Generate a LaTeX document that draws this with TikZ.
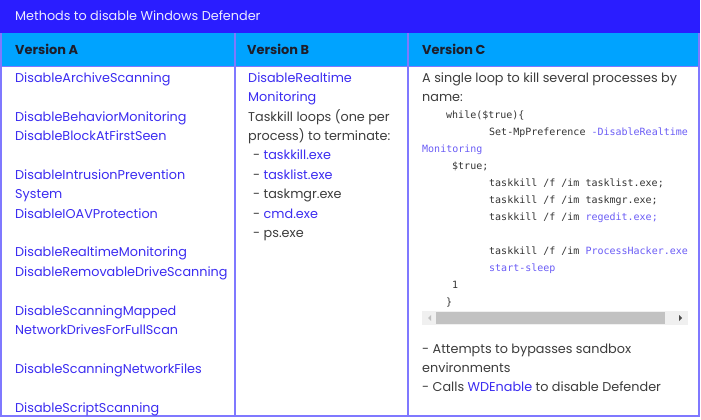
\documentclass[tikz,border=0pt]{standalone}
\usepackage{fontspec}
\setmainfont{Poppins}
\newfontfamily\codefont{DejaVu Sans Mono}
\definecolor{titleblue}{HTML}{2A1DFF}
\definecolor{headblue}{HTML}{00A3FF}
\definecolor{bordercol}{HTML}{7F78FF}
\definecolor{linkblue}{HTML}{3B2CF0}
\definecolor{codelink}{HTML}{6A5CF5}
\definecolor{txtgray}{HTML}{3C3C3C}
\definecolor{codegray}{HTML}{333333}
\definecolor{hdrtext}{HTML}{1E1E2A}
\definecolor{titletext}{HTML}{ECEAFF}
\tikzset{
  txt/.style={anchor=base west, inner sep=0pt, font=\fontsize{12.8}{14}\selectfont, text=txtgray},
  lnk/.style={txt, text=linkblue},
  codeln/.style={anchor=base west, inner sep=0pt, font=\codefont\fontsize{10}{12}\selectfont, text=codegray},
  hdr/.style={anchor=base west, inner sep=0pt, font=\bfseries\fontsize{12.9}{14}\selectfont, text=hdrtext},
  ttl/.style={anchor=base west, inner sep=0pt, font=\fontsize{12.8}{14}\selectfont, text=titletext},
  borderline/.style={draw=bordercol, line width=1.3pt},
}
\begin{document}
\begin{tikzpicture}[x=1pt,y=-1pt]
\useasboundingbox (0,0) rectangle (701,420);
% bars
\fill[titleblue] (0,0) rectangle (700,33);
\fill[headblue] (1,33) rectangle (699,66);
\draw[borderline] (1,33) -- (1,416) -- (699,416) -- (699,33);
\draw[borderline] (235,33) -- (235,416);
\draw[borderline] (408,33) -- (408,416);
\draw[draw=bordercol, line width=0.6pt] (1,66) -- (699,66);
% title and headers
\node[ttl] (title) at (15,20.7) {Methods to disable Windows Defender};
\node[hdr] (ha) at (15,55) {Version A};
\node[hdr] (hb) at (247,55) {Version B};
\node[hdr] (hc) at (422,55) {Version C};
% column A
\node[lnk] (a1) at (15,82.3) {DisableArchiveScanning};
\node[lnk] (a2) at (15,121.1) {DisableBehaviorMonitoring};
\node[lnk] (a3) at (15,140.5) {DisableBlockAtFirstSeen};
\node[lnk] (a4) at (15,179.3) {DisableIntrusionPrevention};
\node[lnk] (a5) at (15,198.7) {System};
\node[lnk] (a6) at (15,218.1) {DisableIOAVProtection};
\node[lnk] (a7) at (15,256.9) {DisableRealtimeMonitoring};
\node[lnk] (a8) at (15,276.3) {DisableRemovableDriveScanning};
\node[lnk] (a9) at (15,315.1) {DisableScanningMapped};
\node[lnk] (a10) at (15,334.5) {NetworkDrivesForFullScan};
\node[lnk] (a11) at (15,373.3) {DisableScanningNetworkFiles};
\node[lnk] (a12) at (15,412.1) {DisableScriptScanning};
% column B
\node[lnk] (b1) at (248,82.3) {DisableRealtime};
\node[lnk] (b2) at (248,101.7) {Monitoring};
\node[txt] (b3) at (248,121.1) {Taskkill loops (one per};
\node[txt] (b4) at (248,140.5) {process) to terminate:};
\node[txt] (b5) at (253,159.9) {- \textcolor{linkblue}{taskkill.exe}};
\node[txt] (b6) at (253,179.3) {- \textcolor{linkblue}{tasklist.exe}};
\node[txt] (b7) at (253,198.7) {- taskmgr.exe};
\node[txt] (b8) at (253,218.1) {- \textcolor{linkblue}{cmd.exe}};
\node[txt] (b9) at (253,237.5) {- ps.exe};
% column C
\node[txt] (c1) at (422,82.3) {A single loop to kill several processes by};
\node[txt] (c2) at (422,101.7) {name:};
\begin{scope}
\clip (420,104) rectangle (688,310);
\node[codeln] (k1) at (446,118) {while(\$true)\{};
\node[codeln] (k2) at (489,135) {Set-MpPreference \textcolor{codelink}{-DisableRealtime}};
\node[codeln, text=codelink] (k3) at (422,152) {Monitoring};
\node[codeln] (k4) at (452,169) {\$true;};
\node[codeln] (k5) at (489,186) {taskkill /f /im tasklist.exe;};
\node[codeln] (k6) at (489,203) {taskkill /f /im taskmgr.exe;};
\node[codeln] (k7) at (489,220) {taskkill /f /im \textcolor{codelink}{regedit.exe;}};
\node[codeln] (k8) at (489,254) {taskkill /f /im \textcolor{codelink}{ProcessHacker.exe;}};
\node[codeln, text=codelink] (k9) at (489,271) {start-sleep};
\node[codeln] (k10) at (452,288) {1};
\node[codeln] (k11) at (446,305) {\}};
\end{scope}
% scrollbar
\fill[black!6] (422,311) rectangle (688,325);
\fill[black!24] (436,312) rectangle (665,324);
\fill[black!25] (431,315) -- (431,321) -- (428,318) -- cycle;
\fill[black!70] (679,315) -- (679,321) -- (682,318) -- cycle;
% bottom text C
\node[txt] (c3) at (422,353) {- Attempts to bypasses sandbox};
\node[txt] (c4) at (422,372.4) {environments};
\node[txt] (c5) at (422,391.8) {- Calls \textcolor{linkblue}{WDEnable} to disable Defender};
\end{tikzpicture}
\end{document}
